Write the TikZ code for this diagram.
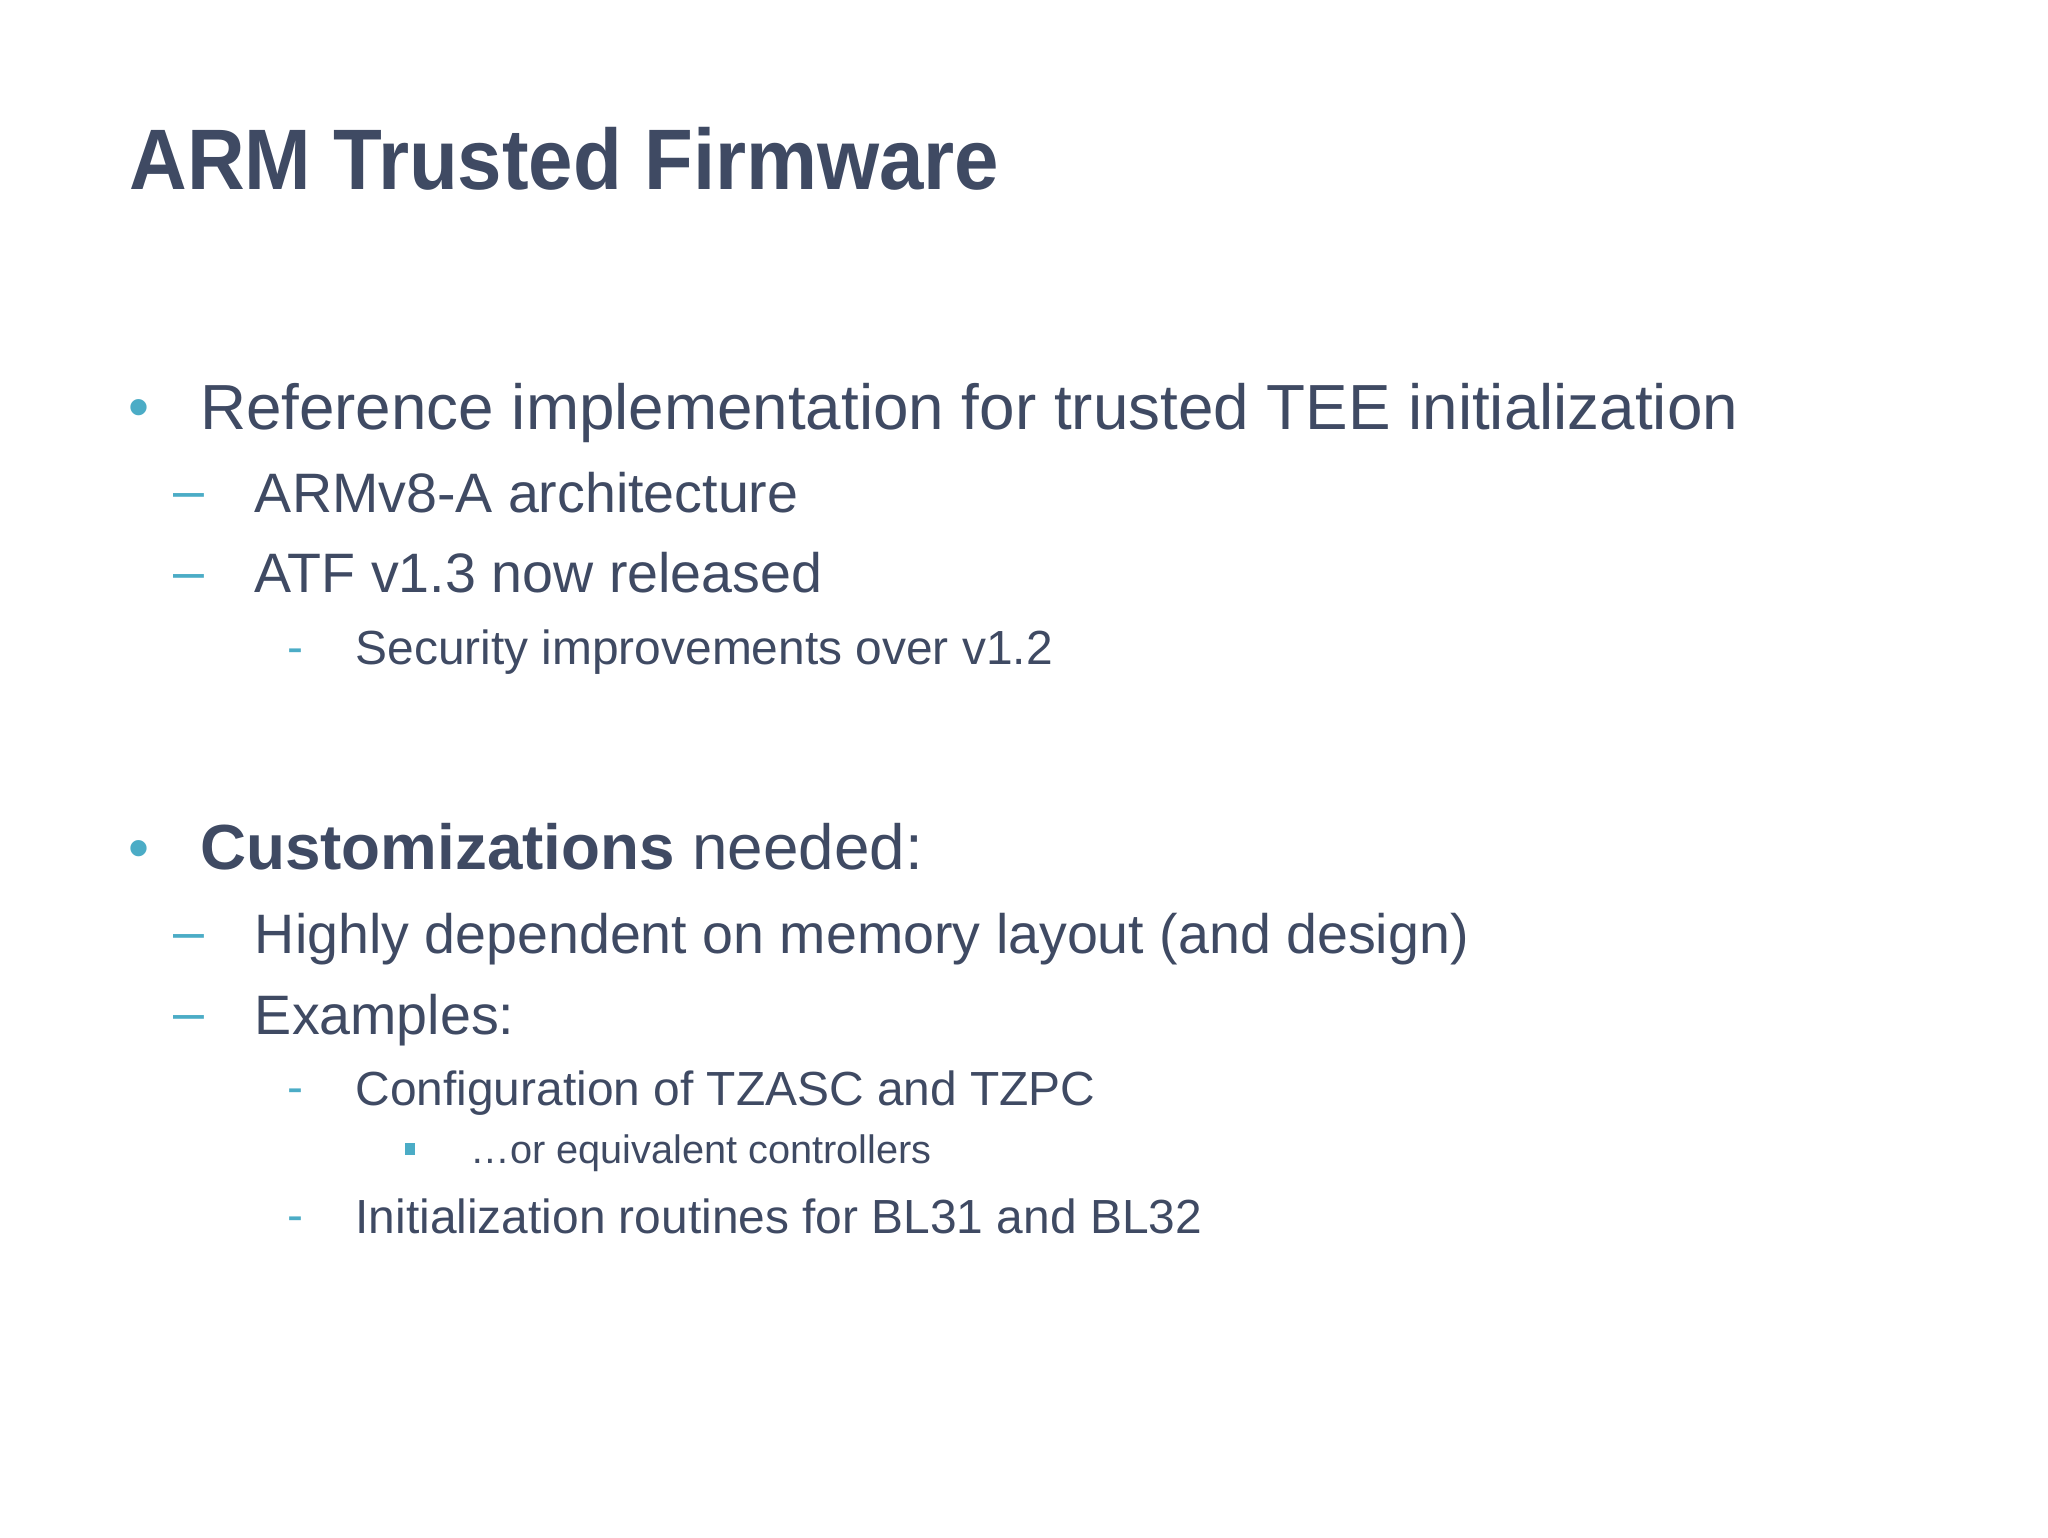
\documentclass[tikz,border=0pt]{standalone}
\usepackage{fontspec}
\setmainfont{Liberation Sans}
\definecolor{txt}{HTML}{3F4A63}
\definecolor{bul}{HTML}{4BACC6}
\begin{document}
\begin{tikzpicture}[x=1bp,y=-1bp,
  every node/.style={anchor=base west,inner sep=0pt,text=txt},
  bl/.style={text=bul},
  lone/.style={font=\fontsize{49}{53}\selectfont},
  ltwo/.style={font=\fontsize{42.7}{46}\selectfont},
  lthree/.style={font=\fontsize{36.8}{40}\selectfont},
  lfour/.style={font=\fontsize{30.5}{34}\selectfont}]
\useasboundingbox[fill=white] (0,0) rectangle (1568,1177);
\node[font=\bfseries\fontsize{66}{70}\selectfont,xscale=0.93] (title) at (99,145) {ARM Trusted Firmware};
\node[bl,font=\fontsize{46}{50}\selectfont] (b1) at (98,327) {•};
\node[lone] (t1) at (153,329) {Reference implementation for trusted TEE initialization};
\node[bl,ltwo] (d1) at (133,390) {–};
\node[ltwo] (t2) at (195,392) {ARMv8-A architecture};
\node[bl,ltwo] (d2) at (133,452) {–};
\node[ltwo] (t3) at (195,454) {ATF v1.3 now released};
\node[bl,lthree] (d3) at (220,508) {-};
\node[lthree] (t4) at (272,509) {Security improvements over v1.2};
\node[bl,font=\fontsize{46}{50}\selectfont] (b2) at (98,665) {•};
\node[lone] (t5) at (153,666) {\textbf{Customizations} needed:};
\node[bl,ltwo] (d4) at (133,728) {–};
\node[ltwo] (t6) at (195,730) {Highly dependent on memory layout (and design)};
\node[bl,ltwo] (d5) at (133,790) {–};
\node[ltwo] (t7) at (195,792) {Examples:};
\node[bl,lthree] (d6) at (220,845) {-};
\node[lthree] (t8) at (272,846) {Configuration of TZASC and TZPC};
\fill[bul] (310,875) rectangle (318,884);
\node[lfour] (t9) at (360,891) {\ldots or equivalent controllers};
\node[bl,lthree] (d7) at (220,943) {-};
\node[lthree] (t10) at (272,944) {Initialization routines for BL31 and BL32};
\end{tikzpicture}
\end{document}
